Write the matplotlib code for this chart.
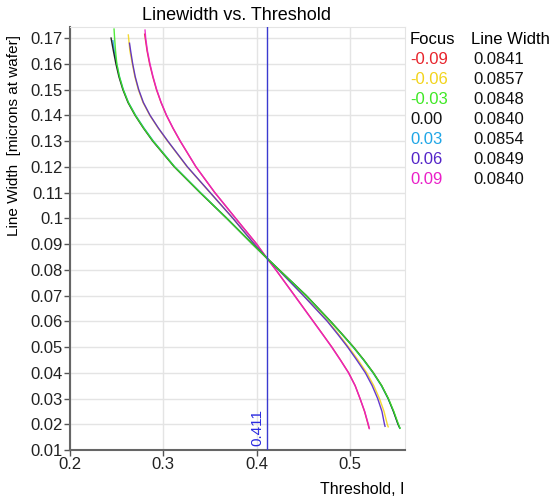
import matplotlib
matplotlib.use("Agg")
import matplotlib.pyplot as plt

plt.rcParams['font.family'] = ['Liberation Sans', 'DejaVu Sans']

focus_labels = ["-0.09", "-0.06", "-0.03", "0.00", "0.03", "0.06", "0.09"]
linewidth_at_threshold = ["0.0841", "0.0857", "0.0848", "0.0840", "0.0854", "0.0849", "0.0840"]
colors = ["#e8242c", "#f2d41c", "#3fe825", "#111111", "#1fa6e6", "#5424c8", "#ea1fc8"]

# Threshold (x) and Line Width (y) for each focus
lw_green = [0.1735, 0.170, 0.165, 0.160, 0.155, 0.150, 0.145, 0.140, 0.135, 0.130, 0.120, 0.110, 0.100, 0.090, 0.0845,
            0.080, 0.070, 0.060, 0.055, 0.050, 0.045, 0.040, 0.035, 0.030, 0.025, 0.020, 0.0184]
th_green = [0.2472, 0.2478, 0.2488, 0.2502, 0.2530, 0.2570, 0.2625, 0.2700, 0.2790, 0.2890, 0.3120, 0.3395, 0.3680, 0.3955, 0.4110,
            0.4240, 0.4530, 0.4790, 0.4915, 0.5036, 0.5147, 0.5250, 0.5340, 0.5412, 0.5470, 0.5520, 0.5537]
lw_black = [0.170, 0.165, 0.160, 0.155, 0.150, 0.145, 0.140, 0.135, 0.130, 0.120, 0.110, 0.100, 0.090, 0.0845,
            0.080, 0.070, 0.060, 0.055, 0.050, 0.045, 0.040, 0.035, 0.030, 0.025, 0.020, 0.0186]
th_black = [0.2440, 0.2465, 0.2492, 0.2524, 0.2566, 0.2621, 0.2697, 0.2787, 0.2886, 0.3117, 0.3393, 0.3679, 0.3955, 0.4110,
            0.4241, 0.4532, 0.4792, 0.4917, 0.5038, 0.5149, 0.5251, 0.5340, 0.5410, 0.5466, 0.5515, 0.5533]
lw_cyan = [0.1690, 0.165, 0.160, 0.155, 0.150, 0.145, 0.140, 0.135, 0.130, 0.120, 0.110, 0.100, 0.090, 0.0845,
           0.080, 0.070, 0.060, 0.055, 0.050, 0.045, 0.040, 0.035, 0.030, 0.025, 0.020, 0.0185]
th_cyan = [0.2460, 0.2475, 0.2500, 0.2530, 0.2571, 0.2626, 0.2703, 0.2794, 0.2893, 0.3122, 0.3397, 0.3681, 0.3956, 0.4110,
           0.4239, 0.4528, 0.4788, 0.4912, 0.5033, 0.5144, 0.5246, 0.5336, 0.5408, 0.5466, 0.5516, 0.5534]
lw_yellow = [0.1712, 0.165, 0.160, 0.155, 0.150, 0.145, 0.140, 0.135, 0.130, 0.120, 0.110, 0.100, 0.090, 0.0845,
             0.080, 0.070, 0.060, 0.055, 0.050, 0.045, 0.040, 0.035, 0.030, 0.025, 0.020, 0.0190]
th_yellow = [0.2625, 0.2642, 0.2668, 0.2695, 0.2732, 0.2782, 0.2855, 0.2945, 0.3045, 0.3255, 0.3500, 0.3745, 0.3975, 0.4110,
             0.4235, 0.4505, 0.4765, 0.4878, 0.4985, 0.5086, 0.5180, 0.5255, 0.5316, 0.5365, 0.5400, 0.5410]
lw_purple = [0.1680, 0.165, 0.160, 0.155, 0.150, 0.145, 0.140, 0.135, 0.130, 0.120, 0.110, 0.100, 0.090, 0.0845,
             0.080, 0.070, 0.060, 0.055, 0.050, 0.045, 0.040, 0.035, 0.030, 0.025, 0.020, 0.0192]
th_purple = [0.2638, 0.2650, 0.2672, 0.2699, 0.2736, 0.2786, 0.2858, 0.2948, 0.3048, 0.3258, 0.3502, 0.3746, 0.3975, 0.4110,
             0.4233, 0.4500, 0.4757, 0.4868, 0.4975, 0.5072, 0.5165, 0.5238, 0.5297, 0.5343, 0.5370, 0.5376]
lw_magenta = [0.1731, 0.170, 0.165, 0.160, 0.155, 0.150, 0.145, 0.140, 0.135, 0.130, 0.120, 0.110, 0.100, 0.090, 0.0845,
              0.080, 0.070, 0.060, 0.055, 0.050, 0.045, 0.040, 0.035, 0.030, 0.025, 0.020, 0.0183]
th_magenta = [0.2804, 0.2811, 0.2830, 0.2857, 0.2890, 0.2929, 0.2977, 0.3035, 0.3105, 0.3182, 0.3350, 0.3552, 0.3775, 0.4000, 0.4110,
              0.4205, 0.4405, 0.4605, 0.4705, 0.4804, 0.4896, 0.4984, 0.5055, 0.5108, 0.5158, 0.5197, 0.5208]
lw_red = [0.1715, 0.170, 0.165, 0.160, 0.155, 0.150, 0.145, 0.140, 0.135, 0.130, 0.120, 0.110, 0.100, 0.090, 0.0845,
          0.080, 0.070, 0.060, 0.055, 0.050, 0.045, 0.040, 0.035, 0.030, 0.025, 0.020, 0.0186]
th_red = [0.2800, 0.2806, 0.2826, 0.2853, 0.2887, 0.2926, 0.2975, 0.3033, 0.3103, 0.3180, 0.3349, 0.3551, 0.3775, 0.4000, 0.4110,
          0.4206, 0.4407, 0.4607, 0.4707, 0.4806, 0.4898, 0.4986, 0.5056, 0.5108, 0.5156, 0.5194, 0.5204]

series_x = [th_red, th_yellow, th_green, th_black, th_cyan, th_purple, th_magenta]
series_y = [lw_red, lw_yellow, lw_green, lw_black, lw_cyan, lw_purple, lw_magenta]

threshold_marker = 0.411
x_ticks = [0.2, 0.3, 0.4, 0.5]
x_tick_labels = ["0.2", "0.3", "0.4", "0.5"]
y_ticks = [0.01, 0.02, 0.03, 0.04, 0.05, 0.06, 0.07, 0.08, 0.09, 0.1, 0.11, 0.12, 0.13, 0.14, 0.15, 0.16, 0.17]
y_tick_labels = ["0.01", "0.02", "0.03", "0.04", "0.05", "0.06", "0.07", "0.08", "0.09", "0.1",
                 "0.11", "0.12", "0.13", "0.14", "0.15", "0.16", "0.17"]

fig = plt.figure(figsize=(5.52, 5.0), dpi=100)
ax = fig.add_axes([70/552, 50/500, 335/552, 423/500])

order = [0, 6, 1, 5, 4, 3, 2]
for i in order:
    ax.plot(series_x[i], series_y[i], color=colors[i], lw=1.0, zorder=3, alpha=0.9,
            solid_joinstyle="round")

ax.axvline(threshold_marker, color="#3a3ad0", lw=1.0, zorder=4)
ax.text(threshold_marker - 0.003, 0.0115, f"{threshold_marker:.3f}", rotation=90,
        color="#2a2ae0", fontsize=11, ha="right", va="bottom")

ax.set_xlim(0.2, 0.559)
ax.set_ylim(0.01, 0.1743)
ax.set_xticks(x_ticks)
ax.set_xticklabels(x_tick_labels)
ax.set_yticks(y_ticks)
ax.set_yticklabels(y_tick_labels)
ax.tick_params(axis="both", labelsize=12, length=4, width=1, color="#555555",
               labelcolor="#222222", pad=1)
ax.grid(True, color="#e4e4e4", lw=1.0, zorder=0)
ax.set_axisbelow(True)
for s in ["top", "right"]:
    ax.spines[s].set_color("#e4e4e4")
for s in ["left", "bottom"]:
    ax.spines[s].set_color("#666666")
    ax.spines[s].set_linewidth(1.5)

fig.text(237/552, 1 - 15/500, "Linewidth vs. Threshold", ha="center", va="center", fontsize=13)
fig.text(14/552, 1 - 135/500, "Line Width  [microns at wafer]", rotation=90,
         ha="center", va="center", fontsize=11)
fig.text(404/552, 1 - 489/500, "Threshold, I", ha="right", va="center", fontsize=11.5)

# legend table
fig.text(410/552, 1 - 40/500, "Focus", ha="left", va="center", fontsize=12)
fig.text(471/552, 1 - 40/500, "Line Width", ha="left", va="center", fontsize=12)
for i, (f, w) in enumerate(zip(focus_labels, linewidth_at_threshold)):
    yy = 1 - (59.5 + i * 20) / 500
    fig.text(410/552, yy, f, ha="left", va="center", fontsize=12, color=colors[i])
    fig.text(473/552, yy, w, ha="left", va="center", fontsize=12, color="#111111")

fig.savefig("out.png", dpi=100)
